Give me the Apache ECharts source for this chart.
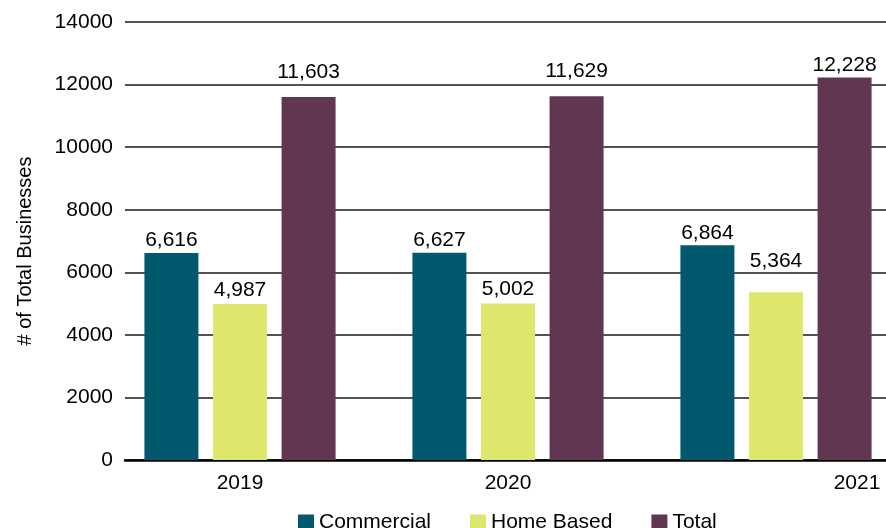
<!DOCTYPE html>
<html>
<head>
<meta charset="utf-8">
<script src="https://cdn.jsdelivr.net/npm/echarts@6/dist/echarts.min.js"></script>
<style>
  html, body { margin: 0; padding: 0; background: #fff; }
  #chart { width: 886px; height: 528px; }
</style>
</head>
<body>
<div id="chart"></div>
<script>
// business counts by year
var years = ['2019', '2020', '2021'];
var commercial = [6616, 6627, 6864];
var homeBased = [4987, 5002, 5364];
var total = [11603, 11629, 12228];
var yMin = 0, yMax = 14000, yStep = 2000;

var font = 'Liberation Sans';

// some labels were nudged up by hand in the original
var labelGap = {
    commercial: [2, 2, 1.5],
    homeBased: [3, 3.5, 20],
    total: [14.5, 14, 1.5]
};

function barData(values, gaps) {
    return values.map(function (v, i) {
        return { value: v, label: { distance: gaps[i] } };
    });
}

function barLabel() {
    return {
        show: true,
        position: 'top',
        color: '#000',
        fontFamily: font,
        fontSize: 21,
        formatter: function (p) { return p.value.toLocaleString('en-US'); }
    };
}

var chart = echarts.init(document.getElementById('chart'));
var option = {
    animation: false,
    textStyle: { fontFamily: font },
    legend: {
        data: ['Commercial', 'Home Based', 'Total'],
        left: 293,
        top: 507,
        itemWidth: 16,
        itemHeight: 16,
        itemGap: 39,
        icon: 'rect',
        textStyle: { fontFamily: font, fontSize: 21, color: '#000' }
    },
    grid: [
        // bars (plot runs past the right edge, like the original)
        { left: 106, top: 22, bottom: 68, width: 804, outerBoundsMode: 'none' },
        // gridlines + y labels
        { left: 125, top: 22, bottom: 68, width: 785, outerBoundsMode: 'none' }
    ],
    xAxis: [
        {
            type: 'category',
            gridIndex: 0,
            data: [
                { value: years[0] },
                { value: years[1] },
                { value: years[2], textStyle: { padding: [0, 0, 0, 162] } }
            ],
            axisLine: { show: false },
            axisTick: { show: false },
            axisLabel: { margin: 13, color: '#000', fontFamily: font, fontSize: 21 }
        },
        {
            type: 'category',
            gridIndex: 1,
            data: years,
            axisLine: { show: true, lineStyle: { color: '#000', width: 2.5 } },
            axisTick: { show: false },
            axisLabel: { show: false }
        }
    ],
    yAxis: [
        {
            type: 'value',
            gridIndex: 0,
            min: yMin, max: yMax, interval: yStep,
            show: false
        },
        {
            type: 'value',
            gridIndex: 1,
            min: yMin, max: yMax, interval: yStep,
            name: '# of Total Businesses',
            nameLocation: 'middle',
            nameGap: 90,
            nameRotate: 90,
            nameTextStyle: { fontFamily: font, fontSize: 20, color: '#000', padding: [0, 20, 0, 0] },
            axisLine: { show: false },
            axisTick: { show: false },
            axisLabel: {
                margin: 12, color: '#000', fontFamily: font, fontSize: 21,
                formatter: function (v) { return String(v); }
            },
            splitLine: { lineStyle: { color: '#1a1a1a', width: 1.6 } }
        }
    ],
    series: [
        {
            name: 'Commercial',
            type: 'bar',
            xAxisIndex: 0, yAxisIndex: 0,
            barWidth: 54,
            barGap: '27%',
            itemStyle: { color: '#02596e' },
            label: barLabel(),
            data: barData(commercial, labelGap.commercial)
        },
        {
            name: 'Home Based',
            type: 'bar',
            xAxisIndex: 0, yAxisIndex: 0,
            barWidth: 54,
            barGap: '27%',
            itemStyle: { color: '#dee66c' },
            label: barLabel(),
            data: barData(homeBased, labelGap.homeBased)
        },
        {
            name: 'Total',
            type: 'bar',
            xAxisIndex: 0, yAxisIndex: 0,
            barWidth: 54,
            barGap: '27%',
            itemStyle: { color: '#613653' },
            label: barLabel(),
            data: barData(total, labelGap.total)
        }
    ]
};
chart.setOption(option);
</script>
</body>
</html>
